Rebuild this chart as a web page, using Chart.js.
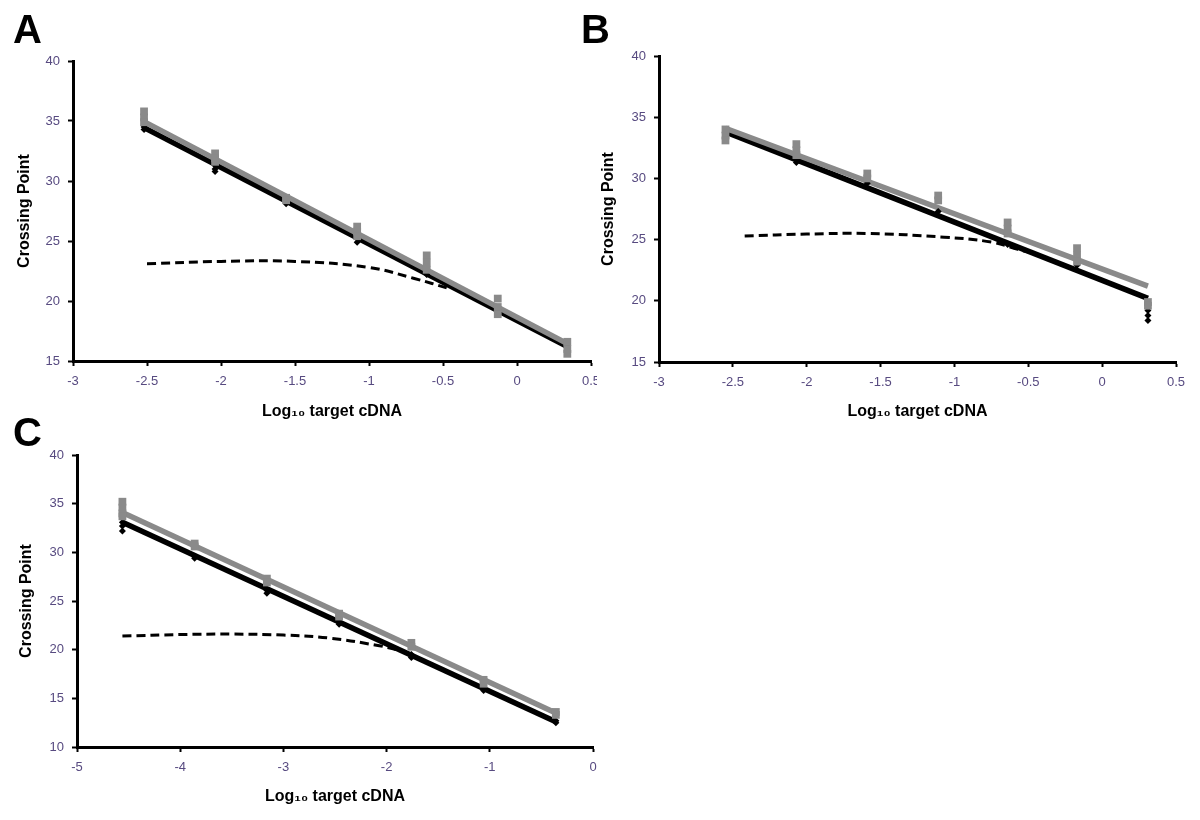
<!DOCTYPE html>
<html>
<head>
<meta charset="utf-8">
<script src="https://cdn.jsdelivr.net/npm/chart.js@4.4.1/dist/chart.umd.min.js"></script>
<style>
  body { margin: 0; background: #fff; }
  #page { position: relative; width: 1200px; height: 820px; overflow: hidden; }
  canvas { position: absolute; }
  .letter { position: absolute; font: bold 40px "Liberation Sans", Arial, sans-serif; color: #000; line-height: 1; }
</style>
</head>
<body>
<div id="page">
  <canvas id="chartA" width="597" height="425" style="left:0;top:0"></canvas>
  <canvas id="chartB" width="603" height="425" style="left:597px;top:0"></canvas>
  <canvas id="chartC" width="620" height="420" style="left:0;top:400px"></canvas>
  <div class="letter" style="left:13px;top:9px">A</div>
  <div class="letter" style="left:581px;top:9px">B</div>
  <div class="letter" style="left:13px;top:412px">C</div>
</div>
<script>
// Panel A
const aX = [-2.52, -2.04, -1.56, -1.08, -0.61, -0.13, 0.34];
const aGray = [[35.8, 35.3, 34.9], [32.3, 31.9, 31.6], [28.6, 28.4], [26.2, 25.8, 25.4], [23.8, 23.2, 22.6], [20.2, 19.5, 18.9], [16.6, 16.0, 15.6]];
const aBlack = [[34.5, 34.3], [31.3, 31.0, 30.8], [28.3, 28.1], [25.2, 24.9], [22.2], [19.3], [16.2]];
const aFitX = [-2.52, 0.34];
const aGrayFit = [34.95, 16.45];
const aBlackFit = [34.45, 16.2];
const aDashX = [-2.5, -2.0, -1.5, -1.0, -0.7, -0.45];
const aDashY = [23.1, 23.3, 23.3, 22.8, 21.9, 21.0];

// Panel B
const bX = [-2.55, -2.07, -1.59, -1.11, -0.64, -0.17, 0.31];
const bGray = [[34.0, 33.5, 33.1], [32.8, 32.3, 31.9], [30.4, 30.0], [28.6, 28.2], [26.4, 25.9, 25.5], [24.3, 23.7, 23.2], [19.9, 19.6]];
const bBlack = [[33.4], [31.3], [29.6], [27.3], [24.6], [22.9], [19.2, 18.8, 18.4]];
const bFitX = [-2.55, 0.31];
const bGrayFit = [34.1, 21.2];
const bBlackFit = [33.8, 20.2];
const bDashX = [-2.42, -2.0, -1.59, -1.07, -0.75, -0.57, -0.44];
const bDashY = [25.3, 25.45, 25.5, 25.2, 24.8, 24.2, 23.8];

// Panel C
const cX = [-4.56, -3.86, -3.16, -2.46, -1.76, -1.06, -0.36];
const cGray = [[35.2, 34.6, 34.0, 33.7], [30.9, 30.6], [27.3, 26.9], [23.7, 23.4], [20.7, 20.3], [16.9, 16.5], [13.6, 13.3]];
const cBlack = [[33.1, 32.7, 32.2], [29.6, 29.4], [26.1, 25.8], [22.8, 22.6], [19.5, 19.2], [16.1, 15.8], [12.7, 12.5]];
const cFitX = [-4.56, -0.36];
const cGrayFit = [34.1, 13.5];
const cBlackFit = [33.1, 12.6];
const cDashX = [-4.56, -4.0, -3.5, -3.0, -2.56, -2.07, -1.86];
const cDashY = [21.4, 21.55, 21.6, 21.5, 21.2, 20.4, 19.9];

const FONT = '"Liberation Sans", Arial, sans-serif';
const TICK_COLOR = '#574a80';
const GRAY = '#8a8a8a';

function reps(xs, groups) {
  const pts = [];
  xs.forEach((x, i) => groups[i].forEach(y => pts.push({ x: x, y: y })));
  return pts;
}
function pairs(xs, ys) {
  return xs.map((x, i) => ({ x: x, y: ys[i] }));
}
// "-3" instead of "-3.0", like the original axis
const tickText = v => String(Number(v.toFixed(2)));

function makePanel(id, p) {
  const canvas = document.getElementById(id);
  const W = canvas.width, H = canvas.height;
  return new Chart(canvas, {
    type: 'scatter',
    data: {
      datasets: [
        { data: reps(p.x, p.gray), pointStyle: 'rect', pointRadius: 5.5, backgroundColor: GRAY, borderColor: GRAY, borderWidth: 0 },
        { data: reps(p.x, p.black), pointStyle: 'rectRot', pointRadius: 3.5, backgroundColor: '#000', borderColor: '#000', borderWidth: 0 },
        { data: pairs(p.fitX, p.grayFit), showLine: true, pointRadius: 0, borderColor: GRAY, borderWidth: 5.5 },
        { data: pairs(p.fitX, p.blackFit), showLine: true, pointRadius: 0, borderColor: '#000', borderWidth: 5.5 },
        { data: pairs(p.dashX, p.dashY), showLine: true, pointRadius: 0, borderColor: '#000', borderWidth: 3, borderDash: [9, 5], tension: 0.4 }
      ]
    },
    options: {
      responsive: false,
      animation: false,
      devicePixelRatio: 1,
      layout: { padding: { left: 0, top: p.top, right: W - p.right, bottom: 0 } },
      plugins: { legend: { display: false }, tooltip: { enabled: false } },
      scales: {
        x: {
          type: 'linear', min: p.xMin, max: p.xMax,
          border: { display: true, color: '#000', width: 3 },
          grid: { drawOnChartArea: false, drawTicks: true, tickLength: 5, tickWidth: 2, tickColor: '#000' },
          ticks: { stepSize: p.xStep, maxRotation: 0, autoSkip: false, padding: 8, color: TICK_COLOR, font: { family: FONT, size: 13 }, callback: tickText },
          title: { display: true, text: 'Log₁₀ target cDNA', color: '#000', font: { family: FONT, size: 16, weight: 'bold' }, padding: { top: 0, bottom: p.xTitlePad } },
          afterFit: s => { s.height = H - p.bottom; s.paddingLeft = 0; s.paddingRight = 0; }
        },
        y: {
          type: 'linear', min: p.yMin, max: 40,
          border: { display: true, color: '#000', width: 3 },
          grid: { drawOnChartArea: false, drawTicks: true, tickLength: 5, tickWidth: 2, tickColor: '#000' },
          ticks: { stepSize: 5, padding: 8, color: TICK_COLOR, font: { family: FONT, size: 13 } },
          title: { display: true, text: 'Crossing Point', color: '#000', font: { family: FONT, size: 16, weight: 'bold' }, padding: { top: p.yTitlePad, bottom: 0 } },
          afterFit: s => { s.width = p.left; s.paddingTop = 0; s.paddingBottom = 0; }
        }
      }
    }
  });
}

makePanel('chartA', {
  x: aX, gray: aGray, black: aBlack, fitX: aFitX, grayFit: aGrayFit, blackFit: aBlackFit, dashX: aDashX, dashY: aDashY,
  xMin: -3, xMax: 0.5, xStep: 0.5, yMin: 15,
  left: 73, top: 61, right: 591, bottom: 361, xTitlePad: 4, yTitlePad: 15
});
makePanel('chartB', {
  x: bX, gray: bGray, black: bBlack, fitX: bFitX, grayFit: bGrayFit, blackFit: bBlackFit, dashX: bDashX, dashY: bDashY,
  xMin: -3, xMax: 0.5, xStep: 0.5, yMin: 15,
  left: 62, top: 56, right: 579, bottom: 362, xTitlePad: 4, yTitlePad: 2
});
makePanel('chartC', {
  x: cX, gray: cGray, black: cBlack, fitX: cFitX, grayFit: cGrayFit, blackFit: cBlackFit, dashX: cDashX, dashY: cDashY,
  xMin: -5, xMax: 0, xStep: 1, yMin: 10,
  left: 77, top: 55, right: 593, bottom: 347, xTitlePad: 14, yTitlePad: 17
});
</script>
</body>
</html>
